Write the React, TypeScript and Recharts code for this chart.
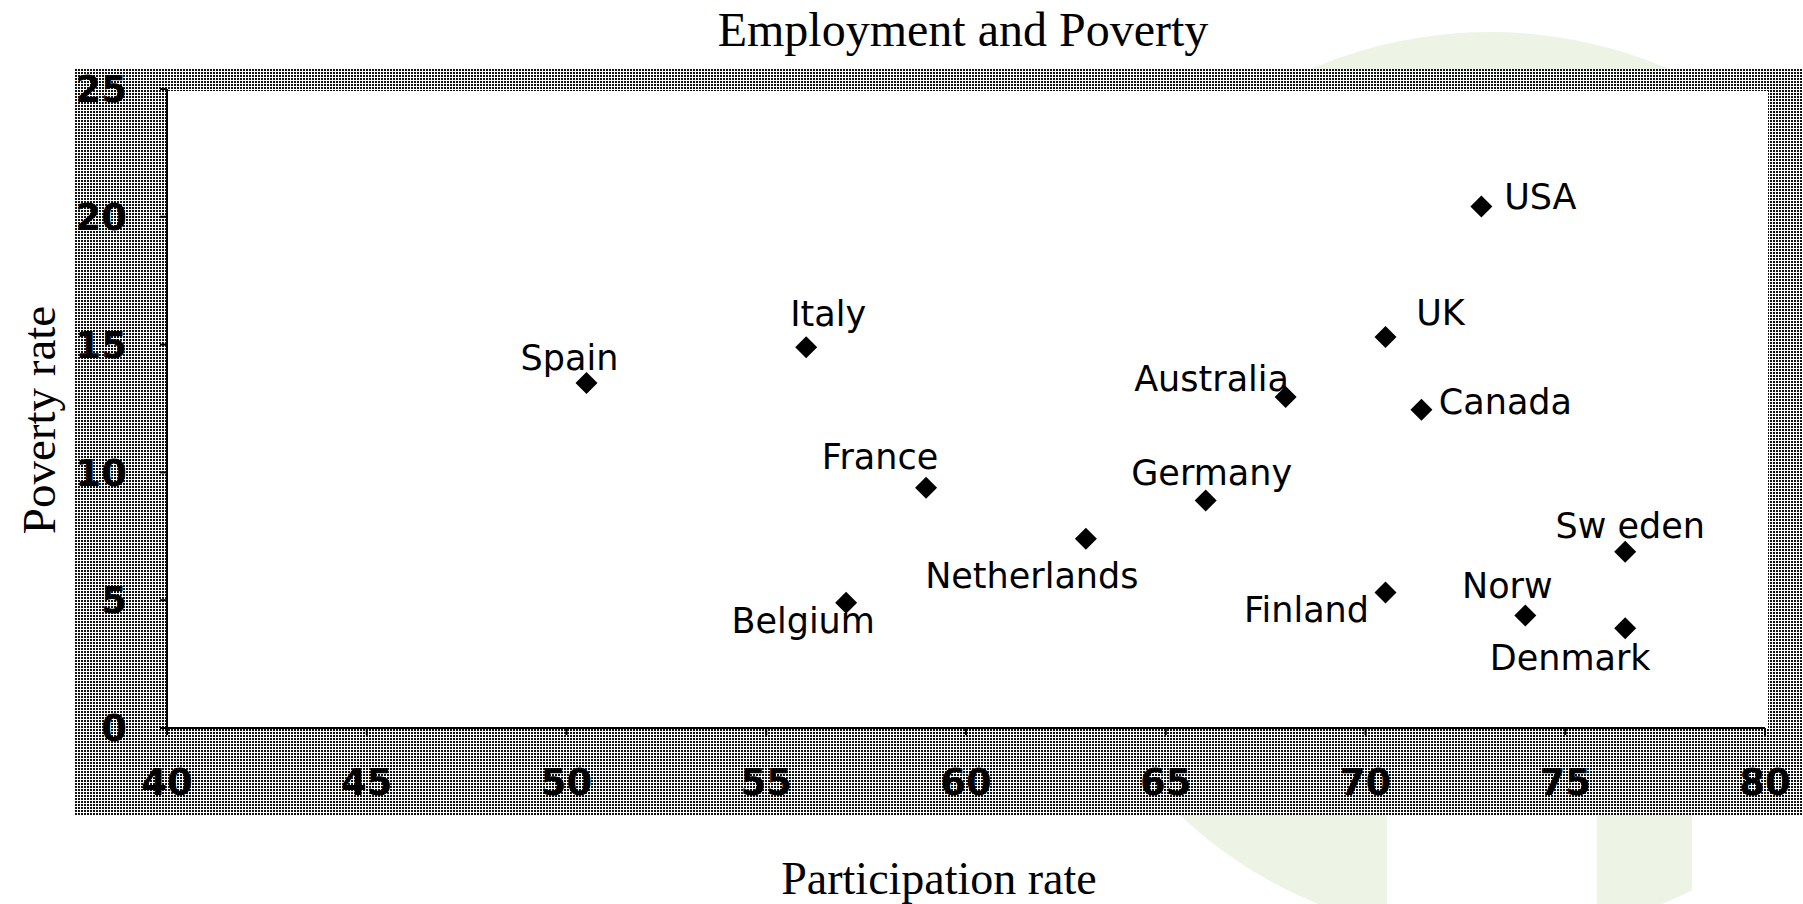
import { ScatterChart, Scatter, XAxis, YAxis } from "recharts";

const countries = ["USA", "UK", "Canada", "Australia", "Germany", "Netherlands", "France", "Italy", "Spain", "Belgium", "Finland", "Norw", "Denmark", "Sw eden"];
const participation = [72.9, 70.5, 71.4, 68.0, 66.0, 63.0, 59.0, 56.0, 50.5, 57.0, 70.5, 74.0, 76.5, 76.5];
const poverty = [20.4, 15.3, 12.45, 12.95, 8.9, 7.4, 9.4, 14.9, 13.5, 4.9, 5.3, 4.4, 3.9, 6.9];
const xTicks = [40, 45, 50, 55, 60, 65, 70, 75, 80];
const yTicks = [0, 5, 10, 15, 20, 25];

// where each country name sits relative to its marker (px)
const labelOffsets: Record<string, [number, number]> = {
  USA: [59, -10],
  UK: [55, -24],
  Canada: [84, -8],
  Australia: [-74, -18],
  Germany: [6, -28],
  Netherlands: [-54, 37],
  France: [-46, -31],
  Italy: [22, -33],
  Spain: [-17, -25],
  Belgium: [-43, 18],
  Finland: [-79, 17],
  Norw: [-18, -30],
  Denmark: [-55, 30],
  "Sw eden": [5, -26],
};

const points = countries.map((name, i) => ({ name, x: participation[i], y: poverty[i] }));

const sans = "'DejaVu Sans', sans-serif";
const serif = "'Liberation Serif', 'Times New Roman', serif";

function Diamond(props: any) {
  const { cx, cy, payload } = props;
  const [dx, dy] = labelOffsets[payload.name] || [0, -25];
  const r = 11;
  return (
    <g>
      <polygon points={`${cx},${cy - r} ${cx + r},${cy} ${cx},${cy + r} ${cx - r},${cy}`} fill="#000" />
      <text x={cx + dx} y={cy + dy} textAnchor="middle" dominantBaseline="central" fontFamily={sans} fontSize={35} fill="#000">
        {payload.name}
      </text>
    </g>
  );
}

export default function App() {
  return (
    <div style={{ position: "absolute", left: 0, top: 0, width: 1803, height: 904, background: "#fff" }}>
      <svg width={1803} height={904} style={{ position: "absolute", left: 0, top: 0 }}>
        <defs>
          <pattern id="halftone" width="3" height="3" patternUnits="userSpaceOnUse">
            <rect width="3" height="3" fill="#fff" />
            <rect width="2" height="2" fill="#111" />
          </pattern>
        </defs>
        {/* faint watermark behind the frame */}
        <circle cx={1490} cy={485} r={453} fill="#edf3e5" />
        <rect x={1387} y={815} width={210} height={89} fill="#fff" />
        <rect x={1692} y={815} width={111} height={89} fill="#fff" />
        <rect x={75} y={69} width={1728} height={746} fill="url(#halftone)" />
        <rect x={167} y={91} width={1601} height={637} fill="#fff" />
        <text x={963} y={46} textAnchor="middle" fontFamily={serif} fontSize={48} fill="#000">
          Employment and Poverty
        </text>
        <text x={939} y={894} textAnchor="middle" fontFamily={serif} fontSize={46} fill="#000">
          Participation rate
        </text>
        <text x={55} y={420} textAnchor="middle" fontFamily={serif} fontSize={47} fill="#000" transform="rotate(-90, 55, 420)">
          Poverty rate
        </text>
      </svg>
      <div style={{ position: "absolute", left: 0, top: 0 }}>
        <ScatterChart width={1803} height={904} margin={{ top: 89, right: 38, bottom: 0, left: 0 }}>
          <XAxis
            type="number"
            dataKey="x"
            domain={[40, 80]}
            ticks={xTicks}
            height={176}
            tickSize={7}
            tickMargin={34}
            axisLine={{ stroke: "#000", strokeWidth: 2 }}
            tickLine={{ stroke: "#000", strokeWidth: 2 }}
            tick={{ fill: "#000", fontFamily: sans, fontWeight: "bold", fontSize: 37 }}
          />
          <YAxis
            type="number"
            dataKey="y"
            domain={[0, 25]}
            ticks={yTicks}
            width={167}
            tickSize={7}
            tickMargin={33}
            axisLine={{ stroke: "#000", strokeWidth: 2 }}
            tickLine={{ stroke: "#000", strokeWidth: 2 }}
            tick={{ fill: "#000", fontFamily: sans, fontWeight: "bold", fontSize: 37 }}
          />
          <Scatter data={points} shape={Diamond} isAnimationActive={false} />
        </ScatterChart>
      </div>
    </div>
  );
}
